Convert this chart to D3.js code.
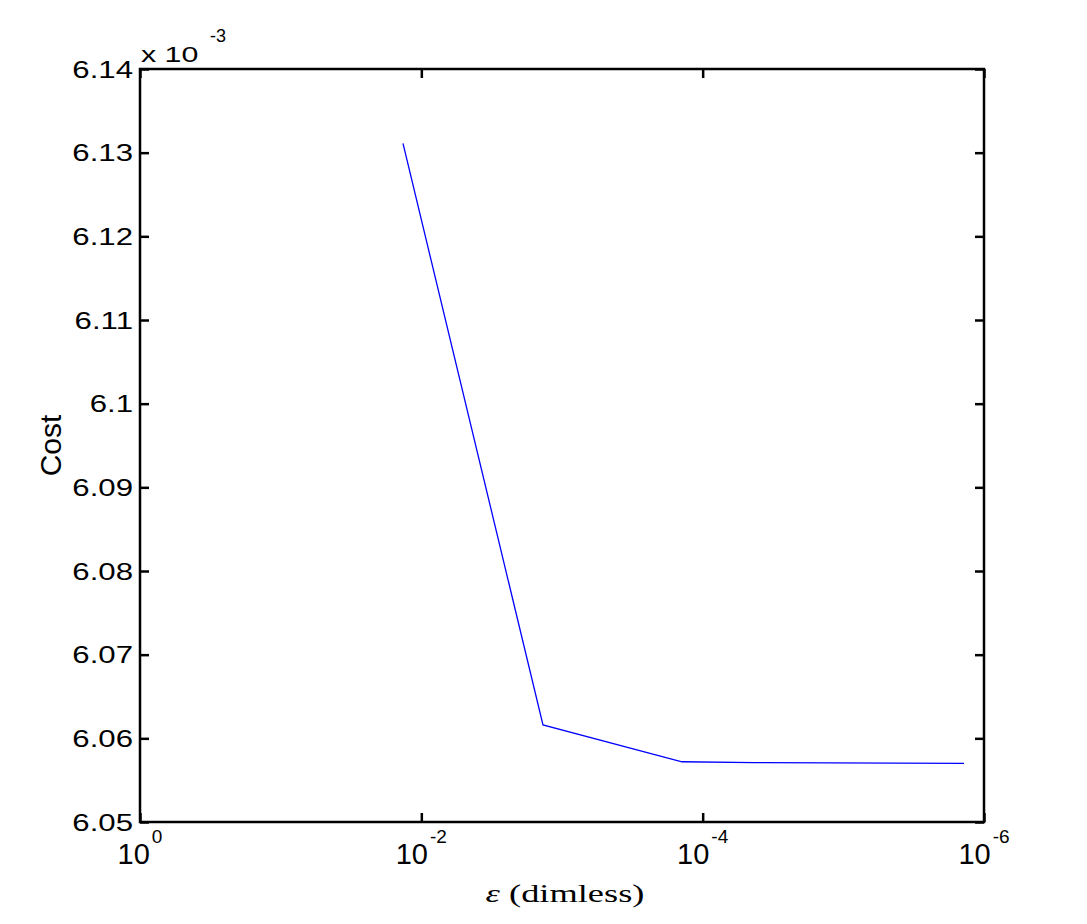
<!DOCTYPE html>
<html>
<head>
<meta charset="utf-8">
<script src="https://cdn.jsdelivr.net/npm/d3@7"></script>
<style>
  body { margin: 0; background: #fff; }
  svg { display: block; }
  .axis path, .axis line { stroke: #000; }
</style>
</head>
<body>
<div class="graph"></div>
<script>
// data
const epsilon = [1.350e-2, 1.365e-3, 1.403e-4, 4.31e-5, 1.387e-6];
const cost = [6.1311e-3, 6.0616e-3, 6.0572e-3, 6.0571e-3, 6.0570e-3];
const xTicks = [1, 1e-2, 1e-4, 1e-6];
const xTickExp = ["0", "-2", "-4", "-6"];
const yTicks = [6.05, 6.06, 6.07, 6.08, 6.09, 6.10, 6.11, 6.12, 6.13, 6.14].map(d => d * 1e-3);

//dimensions
const SIZE = {X: 1087, Y: 924};
const MARGIN = {TOP: 69, LEFT: 140, RIGHT: 103, BOTTOM: 102};
const DIM = {WIDTH: SIZE.X - MARGIN.LEFT - MARGIN.RIGHT,
             HEIGHT: SIZE.Y - MARGIN.TOP - MARGIN.BOTTOM};
const SX = 1.3;   // tick text in the picture is drawn wide
const SANS = "Liberation Sans, Arial, sans-serif";

const svg = d3.select(".graph").append("svg")
    .attr("width", SIZE.X)
    .attr("height", SIZE.Y);

const graph = svg.append("g")
    .attr("transform", `translate(${MARGIN.LEFT}, ${MARGIN.TOP})`);

//scales
const x = d3.scaleLog()
    .domain([1, 1e-6])
    .range([0, DIM.WIDTH]);

const y = d3.scaleLinear()
    .domain([6.05e-3, 6.14e-3])
    .range([DIM.HEIGHT, 0]);

//axes, ticks on all four sides pointing inwards
const tickLen = 9;
const axisStyle = g => {
    g.select(".domain").remove();
    g.selectAll("line").attr("stroke-width", 2.5);
};

graph.append("g").attr("class", "axis")
    .attr("transform", `translate(0, ${DIM.HEIGHT})`)
    .call(d3.axisBottom(x).tickValues(xTicks).tickSize(-tickLen).tickFormat(""))
    .call(axisStyle);
graph.append("g").attr("class", "axis")
    .call(d3.axisTop(x).tickValues(xTicks).tickSize(-tickLen).tickFormat(""))
    .call(axisStyle);
const yAxis = graph.append("g").attr("class", "axis")
    .call(d3.axisLeft(y).tickValues(yTicks).tickSize(-tickLen).tickPadding(0)
        .tickFormat(d => String(+(d * 1000).toFixed(2))))
    .call(axisStyle);
graph.append("g").attr("class", "axis")
    .attr("transform", `translate(${DIM.WIDTH}, 0)`)
    .call(d3.axisRight(y).tickValues(yTicks).tickSize(-tickLen).tickFormat(""))
    .call(axisStyle);

//y tick labels
yAxis.selectAll("text")
    .attr("x", null)
    .attr("dy", null)
    .attr("dominant-baseline", "central")
    .attr("text-anchor", "end")
    .attr("font-family", SANS)
    .attr("font-size", 24)
    .attr("fill", "#000")
    .attr("transform", `translate(-7, 0) scale(${SX}, 1)`);

//x tick labels: 10 with superscript exponent, centred as a whole
const xLab = graph.append("g")
    .attr("font-family", SANS)
    .attr("fill", "#000")
    .selectAll("text")
    .data(xTicks)
    .join("text")
    .attr("text-anchor", "middle")
    .attr("x", d => x(d))
    .attr("y", DIM.HEIGHT + 42);

xLab.append("tspan")
    .attr("font-size", 29)
    .text("10");
xLab.append("tspan")
    .attr("font-size", 19)
    .attr("dx", 2)
    .attr("dy", -21)
    .text((d, i) => xTickExp[i]);

//box
graph.append("rect")
    .attr("width", DIM.WIDTH)
    .attr("height", DIM.HEIGHT)
    .attr("fill", "none")
    .attr("stroke", "#000")
    .attr("stroke-width", 2.5);

//line
const line = d3.line()
    .x((d, i) => x(epsilon[i]))
    .y(d => y(d));

graph.append("path")
    .datum(cost)
    .attr("fill", "none")
    .attr("stroke", "#0000ff")
    .attr("stroke-width", 1.3)
    .attr("d", line);

//multiplier x 10^-3
svg.append("text")
    .attr("font-family", SANS)
    .attr("font-size", 22)
    .attr("transform", `translate(141, 62) scale(1.38, 1)`)
    .text("x 10");
svg.append("text")
    .attr("font-family", SANS)
    .attr("font-size", 18)
    .attr("transform", `translate(210, 42)`)
    .text("-3");

//axis titles
svg.append("text")
    .attr("font-family", SANS)
    .attr("font-size", 30)
    .attr("text-anchor", "middle")
    .attr("dominant-baseline", "central")
    .attr("transform", `translate(50, ${MARGIN.TOP + DIM.HEIGHT / 2}) rotate(-90)`)
    .text("Cost");

const xTitle = svg.append("text")
    .attr("font-family", "Liberation Serif, Times New Roman, serif")
    .attr("font-size", 26)
    .attr("text-anchor", "middle")
    .attr("transform", `translate(${MARGIN.LEFT + DIM.WIDTH / 2 + 3}, 902) scale(1.4, 1)`);
xTitle.append("tspan").attr("font-style", "italic").text("ε");
xTitle.append("tspan").text(" (dimless)");
</script>
</body>
</html>
